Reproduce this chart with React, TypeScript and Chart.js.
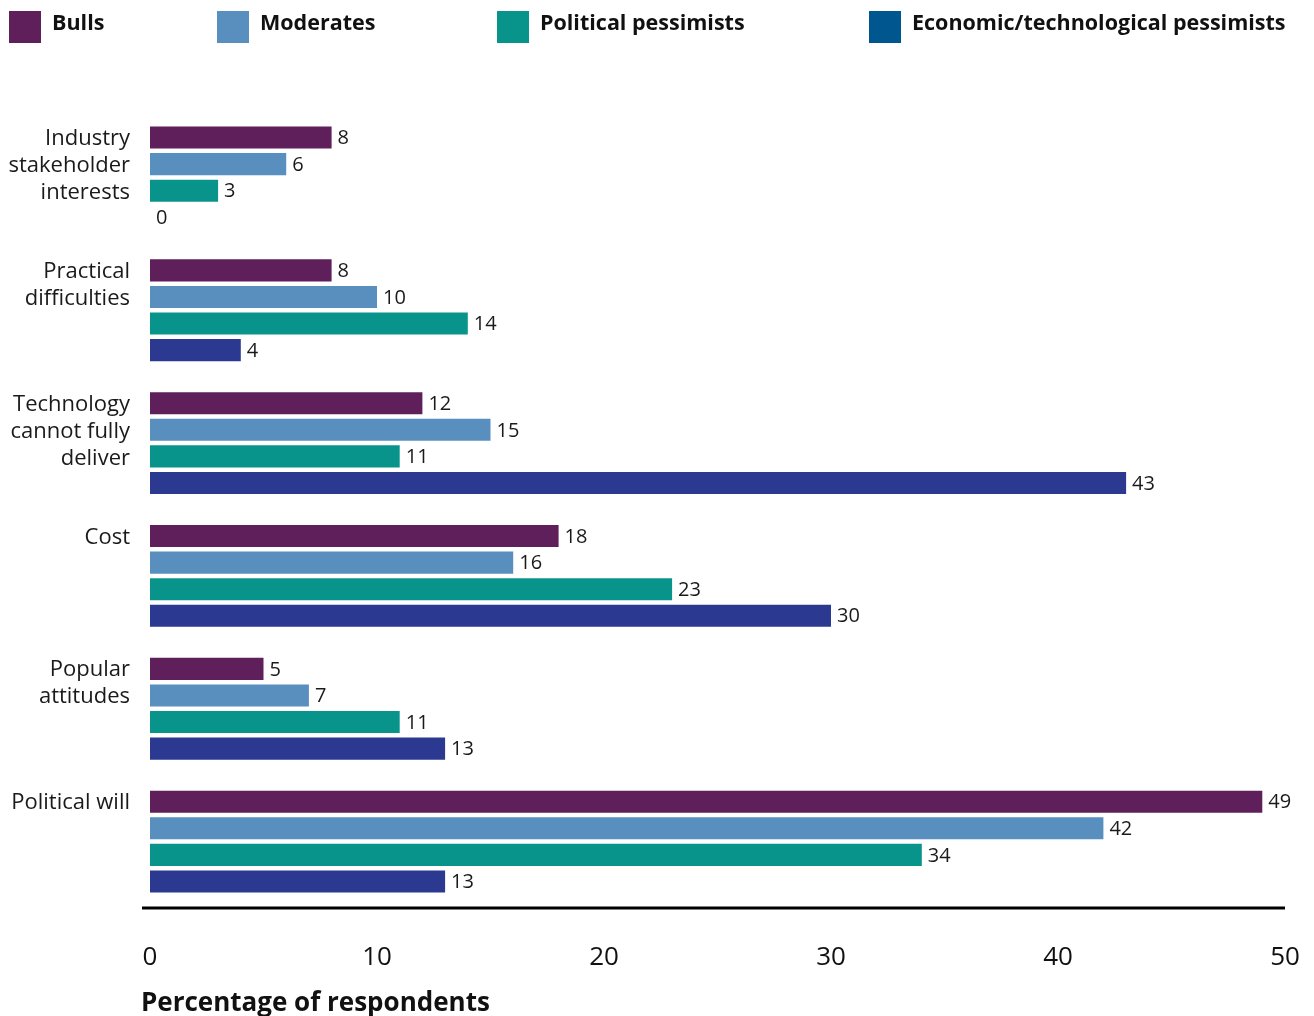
import React, { useEffect, useRef } from "react";
import { Chart, registerables } from "chart.js";

Chart.register(...registerables);

const categoryLines: string[][] = [
  ["Industry", "stakeholder", "interests"],
  ["Practical", "difficulties"],
  ["Technology", "cannot fully", "deliver"],
  ["Cost"],
  ["Popular", "attitudes"],
  ["Political will"],
];
const categories = categoryLines.map((l) => l.join(" "));

const seriesNames = ["Bulls", "Moderates", "Political pessimists", "Economic/technological pessimists"];
const bulls = [8, 8, 12, 18, 5, 49];
const moderates = [6, 10, 15, 16, 7, 42];
const politicalPessimists = [3, 14, 11, 23, 11, 34];
const econTechPessimists = [0, 4, 43, 30, 13, 13];
const barColors = ["#5E1F5A", "#588FBF", "#08948A", "#2B3990"];
const legendColors = ["#5E1F5A", "#588FBF", "#08948A", "#00568F"];
const xTicks = [0, 10, 20, 30, 40, 50];
const axisTitle = "Percentage of respondents";

const FONT = "'Open Sans', Lato, sans-serif";

const legendLeft = [9, 217, 497, 869];

export default function App() {
  const ref = useRef<HTMLCanvasElement | null>(null);

  useEffect(() => {
    if (!ref.current) return;
    const values = [bulls, moderates, politicalPessimists, econTechPessimists];

    const overlay = {
      id: "overlay",
      afterDatasetsDraw(chart: any) {
        const ctx = chart.ctx;
        ctx.save();
        ctx.font = `20px ${FONT}`;
        ctx.fillStyle = "#1a1a1a";
        ctx.textAlign = "left";
        ctx.textBaseline = "middle";
        chart.data.datasets.forEach((ds: any, di: number) => {
          const meta = chart.getDatasetMeta(di);
          meta.data.forEach((el: any, i: number) => {
            ctx.fillText(String(ds.data[i]), el.x + 6, el.y + 1);
          });
        });
        // axis line
        const y = chart.chartArea.bottom;
        ctx.strokeStyle = "#000";
        ctx.lineWidth = 3;
        ctx.beginPath();
        ctx.moveTo(142, y);
        ctx.lineTo(chart.chartArea.right, y);
        ctx.stroke();
        // axis title
        ctx.font = `bold 26px ${FONT}`;
        ctx.fillStyle = "#111";
        ctx.textBaseline = "middle";
        ctx.fillText(axisTitle, 141, 1004);
        ctx.restore();
      },
    };

    const chart = new Chart(ref.current, {
      type: "bar",
      data: {
        labels: categories,
        datasets: seriesNames.map((name, i) => ({
          label: name,
          data: values[i],
          backgroundColor: barColors[i],
          borderWidth: 0,
          categoryPercentage: 0.8,
          barPercentage: 0.83,
        })),
      },
      options: {
        indexAxis: "y",
        animation: false,
        responsive: false,
        maintainAspectRatio: false,
        layout: { padding: { top: 111, right: 29, left: 0, bottom: 0 } },
        plugins: {
          legend: { display: false },
          tooltip: { enabled: false },
        },
        scales: {
          x: {
            min: 0,
            max: 50,
            afterBuildTicks(scale: any) {
              scale.ticks = xTicks.map((v) => ({ value: v }));
            },
            afterFit(scale: any) {
              scale.height = 108;
              scale.paddingLeft = 0;
              scale.paddingRight = 0;
            },
            grid: { display: false, drawTicks: false },
            border: { display: false },
            ticks: {
              font: { family: FONT, size: 26 },
              color: "#111",
              padding: 34,
              maxRotation: 0,
            },
          },
          y: {
            afterFit(scale: any) {
              scale.width = 150;
            },
            grid: { display: false, drawTicks: false },
            border: { display: false },
            ticks: {
              font: { family: FONT, size: 22, lineHeight: 1.23 },
              color: "#1a1a1a",
              padding: 20,
              labelOffset: 2,
              callback: (_v: any, i: number) => {
                const lines = [...categoryLines[i]];
                while (lines.length < 4) lines.push("");
                return lines;
              },
            },
          },
        },
      },
      plugins: [overlay],
    });
    return () => chart.destroy();
  }, []);

  return (
    <div style={{ position: "absolute", left: 0, top: 0, width: 1314, height: 1016, background: "#fff" }}>
      <canvas ref={ref} width={1314} height={1016} style={{ position: "absolute", left: 0, top: 0 }} />
      {seriesNames.map((name, i) => (
        <div
          key={name}
          style={{
            position: "absolute",
            left: legendLeft[i],
            top: 11,
            height: 32,
            display: "flex",
            alignItems: "center",
            fontFamily: FONT,
            fontWeight: 700,
            fontSize: 21.5,
            color: "#111",
            whiteSpace: "nowrap",
          }}
        >
          <span style={{ display: "inline-block", width: 32, height: 32, background: legendColors[i], marginRight: 11 }} />
          <span style={{ marginTop: -12 }}>{name}</span>
        </div>
      ))}
    </div>
  );
}
